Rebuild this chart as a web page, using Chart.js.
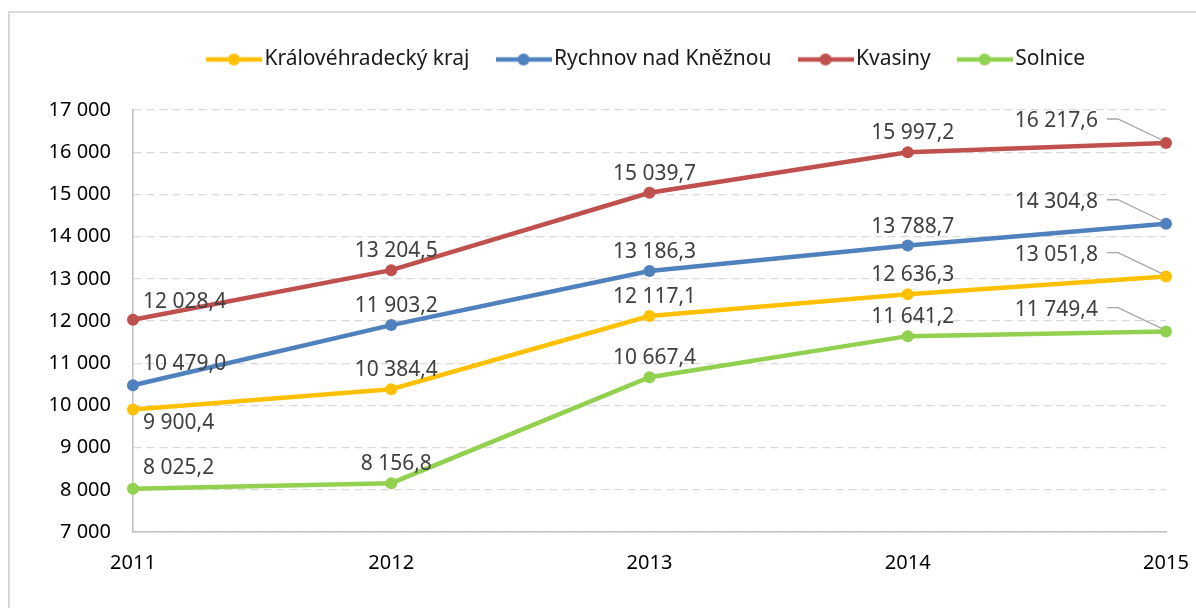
<!DOCTYPE html>
<html>
<head>
<meta charset="utf-8">
<script src="https://cdn.jsdelivr.net/npm/chart.js@4.4.1/dist/chart.umd.min.js"></script>
<style>
  html, body { margin: 0; padding: 0; background: #fff; overflow: hidden; }
  #frame { position: absolute; left: 8px; top: 11px; width: 1400px; height: 800px; border: 2px solid #d9d9d9; }
  #wrap { position: absolute; left: 0; top: 0; width: 1196px; height: 608px; }
</style>
</head>
<body>
<div id="frame"></div>
<div id="wrap"><canvas id="chart"></canvas></div>
<script>
const years = ['2011', '2012', '2013', '2014', '2015'];
const seriesNames = ['Královéhradecký kraj', 'Rychnov nad Kněžnou', 'Kvasiny', 'Solnice'];
const kraj = [9900.4, 10384.4, 12117.1, 12636.3, 13051.8];
const rychnov = [10479.0, 11903.2, 13186.3, 13788.7, 14304.8];
const kvasiny = [12028.4, 13204.5, 15039.7, 15997.2, 16217.6];
const solnice = [8025.2, 8156.8, 10667.4, 11641.2, 11749.4];
const yMin = 7000, yMax = 17000, yStep = 1000;

const colors = ['#FFC000', '#4F81BD', '#C0504D', '#92D050'];
// vertical offset of the first label (2011) per series
const firstLabelDy = [13, -21, -18, -21];

const FONT = '"Noto Sans", sans-serif';

function fmt(v, dec) {
  const [i, d] = v.toFixed(dec).split('.');
  const int = i.replace(/\B(?=(\d{3})+(?!\d))/g, ' ');
  return d ? int + ',' + d : int;
}

function legendIcon(color) {
  const c = document.createElement('canvas');
  c.width = 56; c.height = 14;
  const g = c.getContext('2d');
  g.strokeStyle = color; g.lineWidth = 4.5;
  g.beginPath(); g.moveTo(0, 7); g.lineTo(56, 7); g.stroke();
  g.fillStyle = color;
  g.beginPath(); g.arc(28, 7, 6, 0, Math.PI * 2); g.fill();
  return c;
}
const icons = colors.map(legendIcon);

// push the plot down below the legend
const legendGap = {
  id: 'legendGap',
  beforeInit(chart) {
    const fit = chart.legend.fit;
    chart.legend.fit = function () { fit.call(this); this.height += 30; };
  }
};

const pointLabels = {
  id: 'pointLabels',
  afterDatasetsDraw(chart) {
    const ctx = chart.ctx;
    ctx.save();
    ctx.font = '21px ' + FONT;
    ctx.fillStyle = '#404040';
    ctx.textBaseline = 'middle';
    chart.data.datasets.forEach((ds, di) => {
      const meta = chart.getDatasetMeta(di);
      meta.data.forEach((pt, i) => {
        const txt = fmt(ds.data[i], 1);
        if (i === 0) {
          ctx.textAlign = 'left';
          ctx.fillText(txt, pt.x + 10, pt.y + firstLabelDy[di]);
        } else if (i === meta.data.length - 1) {
          ctx.textAlign = 'right';
          const tx = pt.x - 68, ty = pt.y - 22;
          ctx.fillText(txt, tx, ty);
          ctx.strokeStyle = '#a6a6a6';
          ctx.lineWidth = 1.3;
          ctx.beginPath();
          ctx.moveTo(tx + 9, ty - 2);
          ctx.lineTo(tx + 20, ty - 2);
          ctx.lineTo(pt.x - 4, pt.y - 3);
          ctx.stroke();
        } else {
          ctx.textAlign = 'center';
          ctx.fillText(txt, pt.x + 5, pt.y - 19);
        }
      });
    });
    ctx.restore();
  }
};

const series = [kraj, rychnov, kvasiny, solnice];

new Chart(document.getElementById('chart').getContext('2d'), {
  type: 'line',
  data: {
    labels: years,
    datasets: series.map((data, i) => ({
      label: seriesNames[i],
      data,
      borderColor: colors[i],
      backgroundColor: colors[i],
      borderWidth: 4.5,
      pointRadius: 6,
      pointBorderWidth: 0,
      pointBackgroundColor: colors[i],
      tension: 0
    }))
  },
  options: {
    responsive: true,
    maintainAspectRatio: false,
    animation: false,
    layout: { padding: { top: 15, left: 0, right: 30, bottom: 14 } },
    plugins: {
      tooltip: { enabled: false },
      legend: {
        position: 'top',
        fullSize: false,
        labels: {
          usePointStyle: true,
          pointStyleWidth: 40,
          padding: 34,
          color: '#1a1a1a',
          font: { family: FONT, size: 21 },
          generateLabels(chart) {
            return Chart.defaults.plugins.legend.labels.generateLabels(chart)
              .map(l => ({ ...l, pointStyle: icons[l.datasetIndex] }));
          }
        }
      }
    },
    scales: {
      x: {
        offset: false,
        afterFit(scale) { scale.paddingRight = 0; scale.paddingLeft = 0; },
        grid: { display: false, drawTicks: false },
        border: { display: true, color: '#bfbfbf', width: 1.5 },
        ticks: { color: '#000', padding: 19, maxRotation: 0, font: { family: FONT, size: 20 } }
      },
      y: {
        min: yMin,
        max: yMax,
        afterFit(scale) { scale.width = 133; },
        grid: { color: '#d9d9d9', lineWidth: 1.3, drawTicks: false },
        border: { display: true, color: '#bfbfbf', width: 1.5, dash: [8, 5] },
        ticks: {
          stepSize: yStep,
          color: '#000',
          padding: 22,
          font: { family: FONT, size: 20 },
          callback: v => fmt(v, 0)
        }
      }
    }
  },
  plugins: [legendGap, pointLabels]
});
</script>
</body>
</html>
